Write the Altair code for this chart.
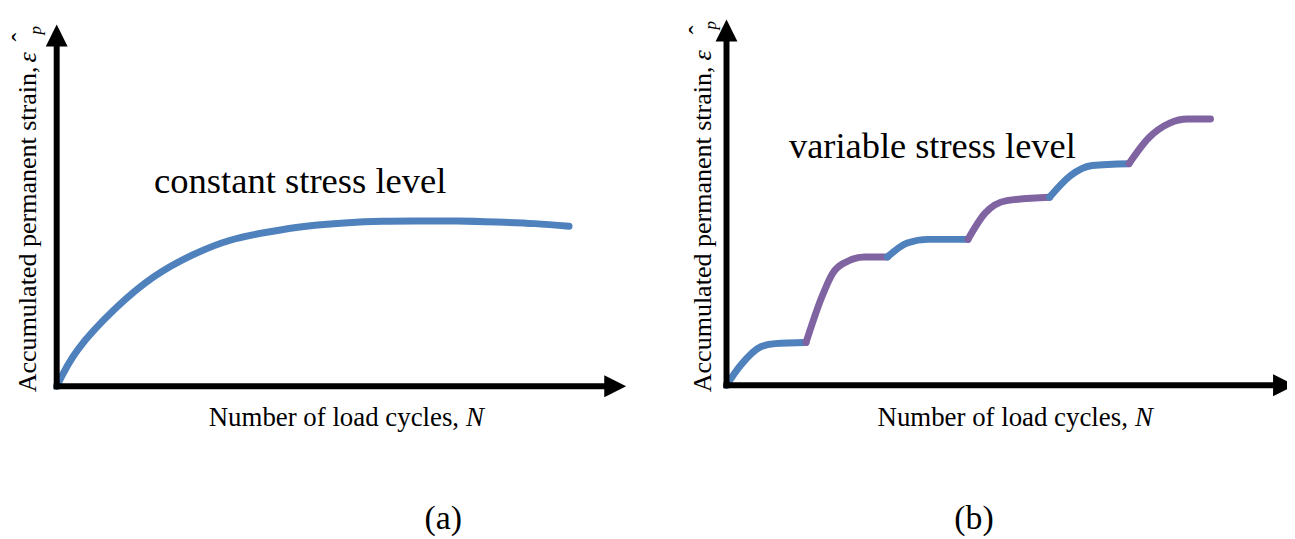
import altair as alt
import pandas as pd

# ---------------- data (schematic units: origin = 0, arrow tip = 100) ----------------
# Panel (a): constant stress level
A_N = [0, 3.72, 10.40, 17.10, 23.79, 30.47, 37.16, 43.84, 50.52, 57.21, 63.87, 70.51, 77.31, 83.94, 89.98]
A_STRAIN = [0, 10.16, 21.62, 30.30, 36.26, 40.38, 42.66, 44.23, 45.14, 45.60, 45.69, 45.69, 45.41, 44.97, 44.23]

# Panel (b): variable stress level (segments alternate low / high stress)
B_SEG_N = [
    [0, 2.45, 6.12, 8.57, 13.99],
    [13.99, 16.78, 18.7, 20.63, 24.3, 28.32],
    [28.32, 31.8, 35.49, 42.48],
    [42.48, 45.45, 49.3, 56.82],
    [56.82, 60.49, 64.34, 70.8],
    [70.8, 74.3, 77.97, 81.1, 85.14],
]
B_SEG_STRAIN = [
    [0, 5.4, 10.6, 11.4, 11.7],
    [11.7, 24.2, 30.7, 33.4, 35.1, 35.1],
    [35.1, 38.9, 39.9, 39.9],
    [39.9, 47.0, 50.5, 51.4],
    [51.4, 57.3, 60.1, 60.6],
    [60.6, 67.7, 71.7, 72.8, 72.8],
]
B_SEG_LEVEL = ["low", "high", "low", "high", "low", "high"]

LEVELS = ["low", "high"]
COLORS = ["#4F81BD", "#8064A2"]

A_TITLE = "constant stress level"
B_TITLE = "variable stress level"
Y_LABEL = "Accumulated permanent strain,"
Y_SYMBOL = "ε"
Y_HAT = "ˆ"
Y_SUB = "p"
X_LABEL = "Number of load cycles,"
X_SYMBOL = "N"
TAGS = ["(a)", "(b)"]
AXIS_TIP = 100

FONT = "Liberation Serif"


def panel(width, height, dom_x, dom_y, curve, texts, interp, clip_x_arrow=False):
    sx = alt.Scale(domain=dom_x, nice=False, zero=False)
    sy = alt.Scale(domain=dom_y, nice=False, zero=False)
    X = alt.X("x:Q", scale=sx, axis=None)
    Y = alt.Y("y:Q", scale=sy, axis=None)

    line = alt.Chart(curve).mark_line(
        strokeWidth=7, interpolate=interp, strokeCap="round", strokeJoin="round"
    ).encode(
        x=X, y=Y,
        color=alt.Color("level:N", scale=alt.Scale(domain=LEVELS, range=COLORS), legend=None),
        detail="seg:N",
        order="i:Q",
    )

    axes_df = pd.DataFrame({
        "x": [0, 0], "y": [0, 0],
        "x2": [0, AXIS_TIP - 3], "y2": [AXIS_TIP - 3, 0],
    })
    axes = alt.Chart(axes_df).mark_rule(
        strokeWidth=6, color="black", strokeCap="square"
    ).encode(x=X, y=Y, x2="x2:Q", y2="y2:Q")

    up = alt.Chart(pd.DataFrame({"x": [0], "y": [AXIS_TIP]})).mark_point(
        shape="M0,-1L1,1L-1,1Z", size=484, filled=True, fill="black",
        opacity=1, strokeWidth=0, yOffset=11
    ).encode(x=X, y=Y)

    right = alt.Chart(pd.DataFrame({"x": [AXIS_TIP], "y": [0]})).mark_point(
        shape="M1,0L-1,-1L-1,1Z", size=484, filled=True, fill="black",
        opacity=1, strokeWidth=0, xOffset=-11, clip=clip_x_arrow
    ).encode(x=X, y=Y)

    layers = [line, axes, up, right]
    for (tx, ty, t, kw) in texts:
        df = pd.DataFrame({"x": [tx], "y": [ty], "t": [t]})
        layers.append(
            alt.Chart(df).mark_text(font=FONT, color="black", **kw).encode(x=X, y=Y, text="t:N")
        )
    return alt.layer(*layers).properties(width=width, height=height)


# curve tables
curve_a = pd.DataFrame({"x": A_N, "y": A_STRAIN, "level": "low", "seg": 0,
                        "i": list(range(len(A_N)))})
rows = []
for s, (ns, es) in enumerate(zip(B_SEG_N, B_SEG_STRAIN)):
    for i, (n, e) in enumerate(zip(ns, es)):
        rows.append({"x": n, "y": e, "level": B_SEG_LEVEL[s], "seg": s, "i": i})
curve_b = pd.DataFrame(rows)

rot = dict(angle=270, align="left", baseline="alphabetic")
hz = dict(align="left", baseline="alphabetic")

texts_a = [
    (-3.66, -1.65, Y_LABEL, dict(fontSize=26.2, **rot)),
    (-3.66, 89.5, Y_SYMBOL, dict(fontSize=26.2, fontStyle="italic", **rot)),
    (-4.71, 95.3, Y_HAT, dict(fontSize=26, **rot)),
    (-2.79, 97.25, Y_SUB, dict(fontSize=17, fontStyle="italic", **rot)),
    (17.1, 53.3, A_TITLE, dict(fontSize=36.8, **hz)),
    (26.7, -10.99, X_LABEL, dict(fontSize=27, **hz)),
    (71.9, -10.99, X_SYMBOL, dict(fontSize=27, fontStyle="italic", **hz)),
    (67.9, -39.56, TAGS[0], dict(fontSize=34, align="center", baseline="alphabetic")),
]

texts_b = [
    (-2.80, -1.90, Y_LABEL, dict(fontSize=26.2, **rot)),
    (-2.80, 88.8, Y_SYMBOL, dict(fontSize=26.2, fontStyle="italic", **rot)),
    (-3.5, 96.0, Y_HAT, dict(fontSize=26, **rot)),
    (-1.92, 97.3, Y_SUB, dict(fontSize=17, fontStyle="italic", **rot)),
    (11.0, 62.2, B_TITLE, dict(fontSize=36.6, **hz)),
    (26.57, -11.14, X_LABEL, dict(fontSize=27, **hz)),
    (71.85, -11.14, X_SYMBOL, dict(fontSize=27, fontStyle="italic", **hz)),
    (43.53, -39.4, TAGS[1], dict(fontSize=34, align="center", baseline="alphabetic")),
]

panel_a = panel(652, 531, [-8.551, 105.236], [-41.758, 104.121], curve_a, texts_a,
                "natural")
panel_b = panel(627, 531, [-11.014, 98.601], [-41.576, 102.717], curve_b, texts_b,
                "monotone", clip_x_arrow=True)

chart = alt.hconcat(panel_a, panel_b, spacing=8).properties(
    padding=0, background="white"
).configure_view(strokeWidth=0)

chart.save("out.html", embed_options={"renderer": "svg", "actions": False})
